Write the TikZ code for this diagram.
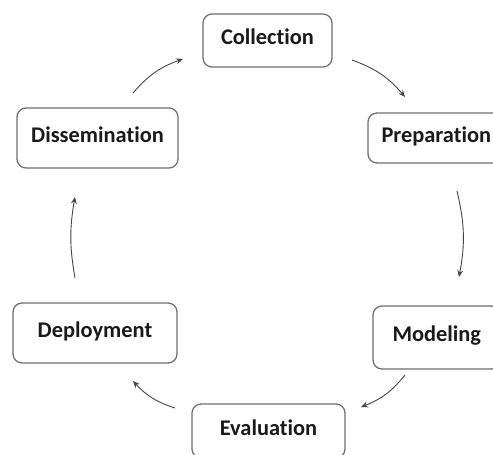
\documentclass[tikz,border=0pt]{standalone}
\usepackage{fontspec}
\setmainfont[Ligatures=NoCommon]{Carlito}
\usetikzlibrary{arrows.meta}
\definecolor{boxline}{HTML}{707070}
\definecolor{arrowline}{HTML}{454545}
\definecolor{label}{HTML}{1A1A1A}
\begin{document}
\begin{tikzpicture}[x=1pt,y=-1pt,
  stage/.style={draw=boxline, line width=1.3pt, rounded corners=9pt, fill=white,
    inner sep=0pt, text=label, font=\fontsize{22.4pt}{26pt}\selectfont\bfseries,
    text height=0.8em, text depth=0pt},
  flow/.style={draw=arrowline, line width=0.9pt,
    -{Stealth[length=7pt,width=6pt,inset=2.5pt]}}]
  \useasboundingbox (0,0) rectangle (493,455);
  \clip (0,0) rectangle (493,455);

  % stages of the cycle
  \node[stage, minimum width=129pt, minimum height=53pt] (col) at (267.5,40.5) {Collection};
  \node[stage, minimum width=137pt, minimum height=50pt, text width=110pt, align=left] (pre) at (436.5,138) {Preparation};
  \node[stage, minimum width=127pt, minimum height=63pt, text width=88pt, align=left] (mod) at (436.5,337.5) {Modeling};
  \node[stage, minimum width=153pt, minimum height=54pt] (eva) at (268.5,431) {Evaluation};
  \node[stage, minimum width=164pt, minimum height=60pt] (dep) at (95,333) {Deployment};
  \node[stage, minimum width=161pt, minimum height=60pt] (dis) at (97.5,138) {Dissemination};

  % arrow ends between neighbouring stages
  \coordinate (a1) at (352,60);   \coordinate (b1) at (405,97);
  \coordinate (a2) at (457,191);  \coordinate (b2) at (459,277);
  \coordinate (a3) at (405,375);  \coordinate (b3) at (361,407);
  \coordinate (a4) at (175,408);  \coordinate (b4) at (133,381);
  \coordinate (a5) at (75,278);   \coordinate (b5) at (75,197);
  \coordinate (a6) at (133,93);   \coordinate (b6) at (183,59);

  \draw[flow] (a1) to[bend left=15] (b1);
  \draw[flow] (a2) to[bend left=12] (b2);
  \draw[flow] (a3) to[bend left=15] (b3);
  \draw[flow] (a4) to[bend left=15] (b4);
  \draw[flow] (a5) to[bend left=10] (b5);
  \draw[flow] (a6) to[bend left=15] (b6);
\end{tikzpicture}
\end{document}
